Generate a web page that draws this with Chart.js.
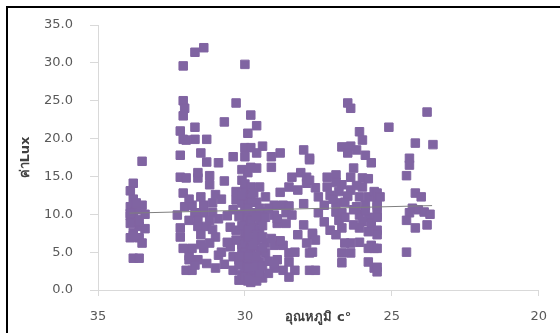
<!DOCTYPE html>
<html>
<head>
<meta charset="utf-8">
<script src="https://cdn.jsdelivr.net/npm/chart.js@4.4.1/dist/chart.umd.min.js"></script>
<style>
  html, body { margin: 0; padding: 0; background: #fff; }
  #frame { position: absolute; left: 6px; top: 6px; width: 620px; height: 420px;
           border-left: 2px solid #000; border-top: 2px solid #000; }
  #c { position: absolute; left: 0; top: 0; }
</style>
</head>
<body>
<div id="frame"></div>
<canvas id="c" width="560" height="333"></canvas>
<script>
// Temperature (°C) of each reading
const temps = [
  33.5,33.8,33.9,33.8,33.5,33.9,33.7,33.8,33.4,33.9,33.7,33.9,33.6,33.4,33.8,33.9,33.6,33.5,33.8,33.6,33.9,33.7,33.6,33.8,
  32.1,32.1,32.05,32.1,32.2,32.0,32.2,32.2,32.0,32.1,32.3,31.9,32.2,32.1,31.9,32.0,32.1,32.05,32.2,
  31.7,31.4,30.0,30.3,30.7,29.8,31.7,29.9,31.7,31.3,31.5,31.3,30.9,30.4,30.0,30.0,30.1,29.9,31.6,31.2,31.2,30.7,31.0,30.3,30.0,
  31.8,31.4,31.1,30.3,30.1,29.9,31.7,31.4,31.1,31.6,31.2,31.6,31.3,30.5,30.3,31.5,31.0,30.0,31.8,31.4,30.5,30.1,29.9,31.9,31.6,
  30.9,30.4,30.2,29.9,31.8,31.0,30.4,30.2,29.9,
  30.1,30.0,30.1,30.0,30.1,29.9,30.0,30.1,29.9,30.0,30.1,29.9,30.0,30.1,30.0,30.1,29.9,30.0,30.2,30.3,30.2,30.4,30.6,30.6,30.8,
  30.7,31.2,31.5,31.7,31.3,31.1,30.9,30.8,31.5,31.9,31.6,
  29.6,29.4,29.8,29.6,28.8,29.1,29.1,28.0,27.8,29.8,29.6,28.4,28.1,27.9,27.9,29.8,29.5,28.5,28.2,28.8,29.8,29.3,29.8,29.6,
  29.0,28.7,28.5,28.0,29.7,29.4,29.0,28.6,28.4,29.8,29.5,28.9,28.6,28.0,29.7,29.5,28.2,27.7,29.8,29.6,29.3,29.0,28.7,27.9,
  29.8,29.5,28.5,28.3,27.8,29.8,29.5,28.9,28.5,29.8,29.5,29.0,28.7,28.3,27.8,29.7,29.4,28.5,29.3,
  29.7,29.5,29.9,29.6,29.4,29.9,29.6,29.4,29.7,29.4,29.9,29.6,29.4,29.7,29.9,29.5,29.8,29.6,29.9,29.2,29.2,29.0,29.2,29.3,28.9,28.8,29.1,
  26.5,26.4,26.1,26.0,26.7,26.4,26.2,26.5,25.9,25.7,27.8,26.3,27.2,26.9,26.4,26.0,25.8,27.8,27.6,27.2,26.7,26.4,26.0,
  27.5,27.1,26.5,26.1,25.8,25.5,27.3,26.9,26.2,25.9,25.5,27.5,26.9,26.7,26.1,25.8,25.5,27.3,26.8,26.0,25.7,
  27.1,26.7,26.1,25.8,27.7,27.6,26.9,26.6,26.4,26.1,25.7,26.7,26.4,25.8,25.6,27.7,26.7,25.8,25.6,27.6,
  26.6,26.3,26.6,26.3,27.0,26.8,25.9,26.2,25.6,26.9,
  25.5,25.4,25.5,25.5,25.5,25.5,25.5,25.5,25.5,25.1,
  23.8,24.2,23.6,24.4,24.4,24.5,24.2,24.0,24.3,24.1,23.9,24.4,23.7,24.5,24.2,23.8,24.5
];
// Light level (lux) of each reading, same order as temps
const lux = [
  17.0,14.1,13.1,12.0,11.2,11.0,10.6,10.3,10.0,9.8,9.3,8.8,8.4,8.1,7.6,6.9,6.9,6.2,4.2,4.2,10.1,11.5,9.0,7.2,
  29.6,25.0,24.0,23.0,21.0,19.8,17.8,14.9,14.8,12.8,9.9,9.2,7.0,5.5,4.5,2.6,19.9,11.0,8.2,
  31.4,32.0,29.8,24.7,22.2,23.1,21.5,20.7,19.9,19.9,18.1,16.9,16.8,17.6,18.8,17.6,15.9,15.5,14.8,15.1,13.9,14.4,12.6,13.0,13.1,
  11.2,11.2,11.5,11.9,11.5,11.9,10.2,10.2,10.2,9.2,9.2,8.4,8.4,8.3,7.9,7.3,7.0,7.5,5.5,5.5,5.7,5.5,5.7,4.0,4.0,
  4.6,4.4,4.0,3.7,2.6,2.9,2.6,1.3,2.2,
  14.5,14.0,12.5,10.5,10.0,9.5,9.0,8.5,8.0,6.5,6.0,6.8,5.0,4.5,3.0,2.0,1.2,1.8,3.3,6.6,9.7,10.6,9.8,6.3,5.0,
  3.4,6.2,6.0,3.3,3.5,8.0,9.4,12.0,12.3,12.0,15.5,
  21.7,19.0,18.8,18.1,18.1,17.6,16.2,18.5,17.4,16.2,16.1,14.9,15.5,14.9,14.1,13.6,13.6,13.6,13.2,12.9,12.3,12.3,11.6,11.6,
  11.2,11.2,11.1,11.4,10.2,10.3,9.9,10.2,9.9,9.2,9.2,8.8,8.8,8.6,8.2,7.9,7.3,7.3,6.6,6.6,6.2,5.9,5.9,6.2,
  5.2,5.2,4.9,5.0,4.9,4.0,3.7,4.0,3.7,2.6,2.6,2.9,2.6,2.6,2.6,1.6,1.6,1.7,4.9,
  12.8,10.8,10.8,9.7,8.5,7.0,7.3,7.0,5.9,5.6,4.5,4.4,3.2,3.2,3.0,2.0,1.0,1.2,1.4,2.2,3.8,3.4,10.8,9.6,9.4,6.5,6.8,
  24.7,24.0,20.9,19.8,18.9,19.0,18.5,18.1,17.8,16.8,17.2,16.1,14.9,15.2,14.9,14.8,14.7,14.5,13.5,13.6,13.9,13.2,13.6,
  12.3,12.5,12.4,12.3,12.3,12.2,11.2,11.5,11.0,11.2,11.0,10.2,10.3,10.2,9.9,9.6,9.9,9.0,9.2,9.0,8.8,
  7.9,8.2,8.2,7.7,7.5,6.6,7.3,6.2,6.2,6.3,5.9,4.9,4.9,5.5,5.5,5.0,3.6,3.7,2.9,2.6,
  11.6,10.6,9.6,8.6,12.0,13.0,10.5,13.8,13.0,14.2,
  12.8,12.3,11.2,9.6,7.9,7.3,5.5,3.0,2.4,21.5,
  23.5,19.4,19.2,17.4,16.5,15.1,12.8,12.3,10.8,10.6,10.3,10.2,10.0,9.2,8.2,8.6,5.0
];
// Linear trend endpoints
const trendTemps = [33.93, 23.63];
const trendLux = [10.15, 11.15];
// Axis ticks
const xTicks = [35, 30, 25, 20];
const yTicks = [0, 5, 10, 15, 20, 25, 30, 35];

const points = temps.map((t, i) => ({ x: t, y: lux[i] }));
const trend = trendTemps.map((t, i) => ({ x: t, y: trendLux[i] }));

const tickFont = { family: "'DejaVu Sans', sans-serif", size: 13 };
const titleFont = { family: "'DejaVu Sans', 'Noto Sans', sans-serif", size: 13, weight: 'bold' };
const axisGray = '#d9d9d9';
const textGray = '#595959';

new Chart(document.getElementById('c'), {
  type: 'scatter',
  data: {
    datasets: [
      {
        type: 'line',
        data: trend,
        borderColor: '#7f7f7f',
        borderWidth: 1,
        pointRadius: 0,
        fill: false,
        order: 0
      },
      {
        data: points,
        pointStyle: 'rect',
        pointRadius: 6,
        pointBorderWidth: 1,
        backgroundColor: 'rgb(128,100,162)',
        borderColor: 'rgb(128,100,162)',
        order: 1
      }
    ]
  },
  options: {
    responsive: false,
    animation: false,
    devicePixelRatio: 1,
    layout: { padding: { left: 10, top: 25, right: 13, bottom: 8 } },
    plugins: { legend: { display: false }, tooltip: { enabled: false } },
    scales: {
      x: {
        type: 'linear',
        min: 20, max: 35, reverse: true,
        afterBuildTicks: s => { s.ticks = xTicks.map(v => ({ value: v })); },
        afterFit: s => { s.height = 35; },
        grid: { drawOnChartArea: false, drawTicks: true, tickLength: 6, color: axisGray },
        border: { display: true, color: axisGray, width: 1 },
        ticks: { font: tickFont, color: textGray, padding: 13, maxRotation: 0 },
        title: { display: true, text: 'อุณหภูมิ c°', font: titleFont, color: '#404040', padding: 0 }
      },
      y: {
        type: 'linear',
        min: 0, max: 35,
        afterBuildTicks: s => { s.ticks = yTicks.map(v => ({ value: v })); },
        afterFit: s => { s.width = 88; },
        grid: { drawOnChartArea: false, drawTicks: true, tickLength: 8, color: axisGray },
        border: { display: true, color: axisGray, width: 1 },
        ticks: { font: tickFont, color: textGray, padding: 17, callback: v => Number(v).toFixed(1) },
        title: { display: true, text: 'ค่าLux', font: titleFont, color: '#404040', padding: { top: 8, bottom: 0 } }
      }
    }
  }
});
</script>
</body>
</html>
